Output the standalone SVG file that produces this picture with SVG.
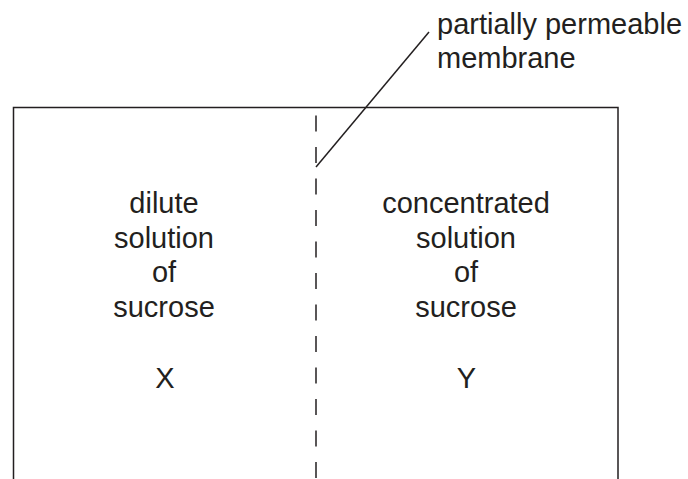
<svg xmlns="http://www.w3.org/2000/svg" width="688" height="479" viewBox="0 0 688 479">
<style>
.ln{stroke:#231f20;stroke-width:1.5;fill:none}
.t{font-family:"Liberation Sans",Arial,sans-serif;font-size:29px;fill:#231f20}
.c{text-anchor:middle}
</style>
<rect width="688" height="479" fill="#fff"/>
<g id="container">
<path class="ln" d="M13.5,479 V107.5 H618 V479"/>
</g>
<g id="membrane">
<line class="ln" x1="316" y1="107" x2="316" y2="479" stroke-dasharray="16 15.5" stroke-dashoffset="-8.5"/>
</g>
<g id="connectors">
<line class="ln" x1="316" y1="167" x2="429" y2="32" stroke-width="1.2"/>
</g>
<g id="label-membrane">
<text class="t" x="437" y="34">partially permeable</text>
<text class="t" x="437" y="68">membrane</text>
</g>
<g id="side-x">
<text class="t c" x="164" y="213">dilute</text>
<text class="t c" x="164" y="247.5">solution</text>
<text class="t c" x="164" y="282">of</text>
<text class="t c" x="164" y="316.5">sucrose</text>
<text class="t c" x="165" y="388">X</text>
</g>
<g id="side-y">
<text class="t c" x="466" y="213">concentrated</text>
<text class="t c" x="466" y="247.5">solution</text>
<text class="t c" x="466" y="282">of</text>
<text class="t c" x="466" y="316.5">sucrose</text>
<text class="t c" x="466.5" y="388">Y</text>
</g>
</svg>
